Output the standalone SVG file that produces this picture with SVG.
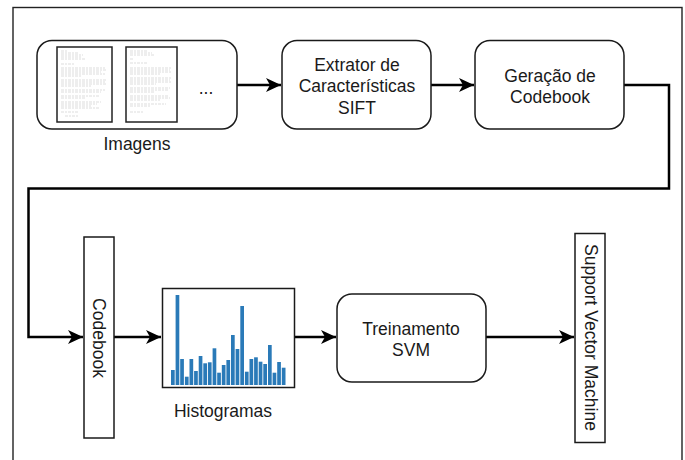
<svg xmlns="http://www.w3.org/2000/svg" width="685" height="460" viewBox="0 0 685 460">
<style>
  .box { fill: #fff; stroke: #1a1a1a; stroke-width: 1.5; }
  .lbl { font-family: "Liberation Sans", Arial, sans-serif; font-size: 17.5px; fill: #1a1a1a; text-anchor: middle; }
  .conn { fill: none; stroke: #000; stroke-width: 2.5; }
  .doc { fill: #fff; stroke: #222; stroke-width: 1.5; }
  .scrib { stroke: #b8b8b8; stroke-width: 0.5; stroke-dasharray: 3 1 2 1; fill: none; }
  .bar { fill: #2a7ab8; }
</style>
<defs>
  <marker id="arrow" markerUnits="userSpaceOnUse" markerWidth="16" markerHeight="14" refX="15" refY="7" orient="auto">
    <path d="M0,0 L15,7 L0,14 L4,7 z" fill="#000"/>
  </marker>
</defs>
<rect x="0" y="0" width="685" height="460" fill="#fff"/>
<rect x="13" y="7.5" width="669" height="470" fill="none" stroke="#222" stroke-width="1.4"/>

<g id="connectors">
  <path class="conn" d="M237,85 L281,85" marker-end="url(#arrow)"/>
  <path class="conn" d="M431,85 L474,85" marker-end="url(#arrow)"/>
  <path class="conn" d="M624,85 L669,85 L669,188.5 L28.5,188.5 L28.5,337 L83,337" marker-end="url(#arrow)"/>
  <path class="conn" d="M114,337 L161,337" marker-end="url(#arrow)"/>
  <path class="conn" d="M294,337 L336,337" marker-end="url(#arrow)"/>
  <path class="conn" d="M486,337 L574,337" marker-end="url(#arrow)"/>
</g>

<g id="imagens">
  <rect class="box" x="37" y="40.5" width="200" height="88.5" rx="15"/>
  <rect class="doc" x="57" y="47" width="55" height="75"/>
  <path class="scrib" d="M61,51 h6 M61,53 h18 M61,55 h22 M61,57 h20 M61,59 h24 M61,64 h14 M61,68 h44 M61,70 h46 M61,72 h40 M61,74 h44 M61,76 h20 M61,80 h45 M61,82 h44 M61,84 h46 M61,86 h30 M61,90 h44 M61,92 h40 M61,96 h38 M61,98 h24 M61,102 h40 M61,104 h36 M61,106 h30 M61,108 h38 M61,112 h18 M65,116 h14"/>
  <rect class="doc" x="126" y="47" width="51" height="75"/>
  <path class="scrib" d="M130,51 h18 M130,53 h22 M130,55 h24 M130,59 h4 M130,63 h18 M130,68 h42 M130,70 h40 M130,72 h42 M130,74 h30 M130,78 h42 M130,80 h40 M130,82 h42 M130,84 h26 M130,88 h40 M130,90 h38 M130,92 h24 M130,96 h38 M130,98 h40 M130,100 h30 M130,104 h36 M130,106 h20 M130,112 h14"/>
  <text class="lbl" x="206" y="94">...</text>
  <text class="lbl" x="137" y="150">Imagens</text>
</g>

<g id="extrator">
  <rect class="box" x="282" y="40.5" width="149" height="88.5" rx="15"/>
  <text class="lbl" x="357" y="70.5">Extrator de</text>
  <text class="lbl" x="357" y="92">Características</text>
  <text class="lbl" x="357" y="113.5">SIFT</text>
</g>

<g id="geracao">
  <rect class="box" x="475" y="40.5" width="149" height="88.5" rx="15"/>
  <text class="lbl" x="550" y="81.5">Geração de</text>
  <text class="lbl" x="550" y="103">Codebook</text>
</g>

<g id="codebook">
  <rect class="box" x="84" y="237" width="30" height="201"/>
  <text class="lbl" transform="translate(99,338) rotate(90)" x="0" y="6">Codebook</text>
</g>

<g id="histogramas">
  <rect class="box" x="162.5" y="288.5" width="132" height="99"/>
  <rect class="bar" x="171.0" y="370.0" width="3.7" height="15.0"/>
  <rect class="bar" x="175.6" y="295.0" width="3.7" height="90.0"/>
  <rect class="bar" x="180.2" y="359.0" width="3.7" height="26.0"/>
  <rect class="bar" x="184.9" y="376.7" width="3.7" height="8.3"/>
  <rect class="bar" x="189.5" y="359.0" width="3.7" height="26.0"/>
  <rect class="bar" x="194.1" y="371.0" width="3.7" height="14.0"/>
  <rect class="bar" x="198.7" y="356.0" width="3.7" height="29.0"/>
  <rect class="bar" x="203.3" y="363.3" width="3.7" height="21.7"/>
  <rect class="bar" x="207.9" y="362.3" width="3.7" height="22.7"/>
  <rect class="bar" x="212.6" y="348.3" width="3.7" height="36.7"/>
  <rect class="bar" x="217.2" y="372.7" width="3.7" height="12.3"/>
  <rect class="bar" x="221.8" y="365.0" width="3.7" height="20.0"/>
  <rect class="bar" x="226.4" y="360.0" width="3.7" height="25.0"/>
  <rect class="bar" x="231.0" y="335.0" width="3.7" height="50.0"/>
  <rect class="bar" x="235.6" y="349.0" width="3.7" height="36.0"/>
  <rect class="bar" x="240.3" y="306.0" width="3.7" height="79.0"/>
  <rect class="bar" x="244.9" y="371.7" width="3.7" height="13.3"/>
  <rect class="bar" x="249.5" y="359.0" width="3.7" height="26.0"/>
  <rect class="bar" x="254.1" y="357.3" width="3.7" height="27.7"/>
  <rect class="bar" x="258.7" y="361.7" width="3.7" height="23.3"/>
  <rect class="bar" x="263.3" y="364.0" width="3.7" height="21.0"/>
  <rect class="bar" x="268.0" y="345.0" width="3.7" height="40.0"/>
  <rect class="bar" x="272.6" y="372.7" width="3.7" height="12.3"/>
  <rect class="bar" x="277.2" y="362.0" width="3.7" height="23.0"/>
  <rect class="bar" x="281.8" y="367.7" width="3.7" height="17.3"/>
  <text class="lbl" x="223" y="416.5">Histogramas</text>
</g>

<g id="treinamento">
  <rect class="box" x="337" y="294" width="149" height="88" rx="15"/>
  <text class="lbl" x="411" y="334.5">Treinamento</text>
  <text class="lbl" x="411" y="356">SVM</text>
</g>

<g id="svm">
  <rect class="box" x="575" y="233.5" width="30" height="209"/>
  <text class="lbl" transform="translate(591,337.5) rotate(90)" x="0" y="6">Support Vector Machine</text>
</g>
</svg>
